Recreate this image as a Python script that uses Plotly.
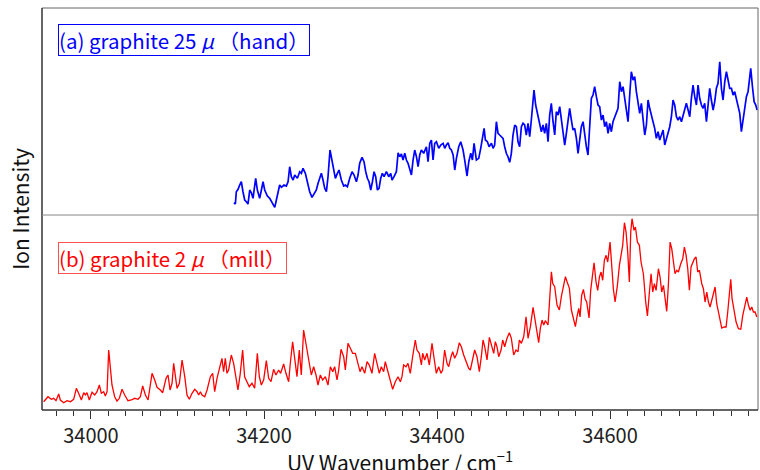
import plotly.graph_objects as go

# ---- (b) graphite 2 micron (mill): red trace ----
red_wn = [
    33945.3, 33950.3, 33954.2, 33956.9, 33959.6, 33962.7, 33964.6, 33968.5, 33972.3, 33976.2,
    33980.0, 33983.1, 33986.6, 33988.9, 33991.6, 33993.5, 33995.4, 33998.1, 34001.2, 34004.3,
    34007.0, 34009.7, 34012.0, 34014.7, 34016.6, 34018.6, 34020.5, 34022.4, 34024.3, 34027.4,
    34030.1, 34032.8, 34035.9, 34039.0, 34042.8, 34046.7, 34050.5, 34054.4, 34057.1, 34059.8,
    34062.9, 34066.0, 34068.7, 34070.6, 34073.7, 34076.4, 34080.2, 34082.9, 34086.8, 34089.1,
    34091.4, 34093.7, 34095.6, 34097.6, 34099.5, 34102.2, 34105.3, 34108.4, 34111.0, 34113.7,
    34116.8, 34119.9, 34122.6, 34124.5, 34126.5, 34128.4, 34131.5, 34134.2, 34138.0, 34140.7,
    34143.0, 34145.7, 34148.4,
    34151.4, 34153.3, 34155.3, 34157.2, 34159.1, 34162.2, 34164.9, 34166.8, 34169.9, 34172.6,
    34175.3, 34177.6, 34180.3, 34183.0, 34186.1, 34189.2, 34192.3, 34194.6, 34196.9, 34199.6,
    34202.7, 34205.4, 34208.1, 34211.1, 34213.8, 34216.9, 34219.2, 34222.7, 34225.4, 34228.5,
    34230.4, 34233.1, 34236.2, 34238.1, 34240.8, 34243.1, 34245.8, 34247.8, 34249.7, 34252.4,
    34254.7, 34257.4, 34260.1, 34262.4, 34265.1, 34267.8, 34270.9, 34274.0, 34276.7, 34279.4,
    34281.7, 34284.4, 34286.3, 34289.0, 34292.1, 34294.0, 34297.1, 34299.8, 34302.5, 34305.6,
    34308.6, 34311.0, 34313.3, 34316.4, 34319.1, 34321.7, 34324.8, 34327.9, 34330.6, 34333.3,
    34335.6, 34338.3, 34340.2, 34342.9, 34346.0, 34348.7, 34351.8, 34354.9, 34357.6,
    34359.5, 34361.4, 34364.1, 34366.4, 34369.1, 34371.8, 34374.9, 34376.8, 34379.5, 34381.9,
    34383.4, 34385.7, 34388.4, 34391.1, 34394.2, 34396.9, 34399.2, 34401.9, 34404.6, 34406.5,
    34408.8, 34411.5, 34413.5, 34416.2, 34418.1, 34420.4, 34423.1, 34425.8, 34428.1, 34430.8,
    34433.5, 34436.6, 34438.5, 34441.2, 34443.5, 34446.2, 34448.9, 34451.2, 34453.2, 34455.1,
    34457.8, 34460.5, 34462.8, 34465.5, 34467.4, 34469.3, 34471.3, 34474.0, 34475.9, 34478.2,
    34480.9, 34483.6, 34485.9, 34488.6, 34491.3, 34493.6, 34495.2, 34497.5, 34500.2, 34502.9,
    34505.2, 34507.9, 34511.0, 34513.7, 34515.6, 34517.5, 34519.4, 34521.4, 34523.3, 34525.2,
    34528.3, 34532.2, 34533.7, 34536.0, 34538.7, 34541.4, 34543.7, 34546.4, 34548.4, 34550.3,
    34553.0, 34555.3, 34558.0, 34559.9, 34561.8, 34563.8,
    34565.3, 34567.2, 34569.2, 34571.1, 34573.0, 34575.7, 34577.6, 34579.9, 34581.5, 34583.8,
    34585.7, 34587.7, 34589.6, 34591.5, 34593.4, 34595.4, 34597.3, 34600.0, 34601.9, 34603.8,
    34605.8, 34608.5, 34610.8, 34612.7, 34614.6, 34616.6, 34618.5, 34620.4, 34622.3, 34623.9,
    34625.4, 34627.7, 34629.3, 34631.6, 34633.9, 34635.8, 34638.5, 34641.2, 34643.2, 34645.5,
    34647.4, 34649.3, 34651.2, 34653.2, 34655.9, 34657.8, 34659.7, 34661.7, 34663.6, 34665.5,
    34667.4, 34669.4, 34671.3, 34673.2, 34675.1, 34677.1, 34679.0, 34681.7, 34684.0, 34685.9,
    34687.9, 34689.8, 34691.7, 34693.6, 34695.6, 34697.5, 34699.4, 34701.3, 34703.3, 34706.0,
    34707.9, 34709.8, 34711.8, 34713.7, 34715.6, 34717.5, 34719.5, 34721.4, 34723.3, 34725.2,
    34727.2, 34729.1, 34731.8, 34734.1, 34736.0, 34738.0, 34739.5, 34741.0, 34743.4, 34745.7,
    34748.4, 34751.1, 34753.4, 34756.1, 34758.0, 34760.0, 34761.9, 34763.8, 34765.7, 34767.6,
    34769.6,
]
red_int = [
    8.3, 13.3, 10.7, 11.7, 9.3, 16, 10, 7.3, 9.3, 8.3,
    10.7, 21.7, 15, 10, 17.3, 15, 17.3, 10, 17.7, 15,
    18.3, 25, 16.7, 18.3, 14, 18.3, 60, 43.3, 25, 13.3,
    9, 11.7, 20.7, 15, 9.3, 10, 11.7, 10.7, 13.3, 24,
    15, 10, 26.7, 36.7, 30, 22.7, 20, 17.3, 31.7, 35,
    20, 26.7, 46.7, 35, 21.7, 26.7, 50, 33.3, 15, 10.7,
    16.7, 20.7, 18.3, 15, 18.3, 15, 13.3, 20, 33.3, 36.7,
    18.3, 31.7, 40,
    51.7, 38.3, 51.7, 36.7, 40, 55, 46.7, 36.7, 20, 36.7,
    60, 33.3, 28.3, 23.3, 26.7, 21.7, 56.7, 33.3, 25, 30,
    49.3, 31.7, 28.3, 40.7, 35, 40, 36.7, 46, 36.7, 28.3,
    46.7, 68.3, 46.7, 33.3, 60, 35, 80, 70, 63.3, 46.7,
    35, 43.3, 35, 25, 35, 30, 33.3, 25, 43.3, 38.3,
    43.3, 30, 40, 60.7, 53.3, 40, 66.7, 61.7, 56.7, 56.7,
    45, 38.3, 43.3, 36.7, 48.3, 45, 36.7, 56.7, 46.7, 36.7,
    43.3, 38.3, 48.3, 40, 28.3, 20.7, 28.3, 33.3, 28.3,
    33.3, 45, 43.3, 46.7, 36.7, 53.3, 70, 60, 56.7, 45,
    56.7, 50, 56.7, 45, 66.7, 50, 36.7, 43.3, 36.7, 40,
    60, 46.7, 43.3, 53.3, 58.3, 51.7, 56.7, 67.3, 63.3, 55,
    48.3, 41.7, 40, 50, 60, 53.3, 38.3, 53.3, 70, 63.3,
    50, 72.7, 65, 56.7, 68.3, 63.3, 53.3, 60, 70, 63.3,
    71.7, 77.3, 71.7, 55, 60, 58.3, 70, 66.7, 73.3, 93.3,
    71.7, 83.3, 102.7, 88.3, 78.3, 67.3, 81.7, 90, 85, 89.3,
    85, 138.3, 126.7, 123.3, 105, 100, 113.3, 126.7, 133.3, 128.3,
    121.7, 100, 91.7, 83.3, 93.3, 101.7,
    93, 114.7, 120.7, 111.3, 108, 92, 119.7, 134.7, 147.3, 128,
    119.7, 133, 138, 129.7, 149.7, 154.7, 148, 168, 139.7, 121.3,
    108, 124.7, 144.7, 155.3, 164.7, 187.3, 178, 158, 128, 178,
    191.3, 179.7, 183, 168, 164.7, 148, 136.3, 108, 94, 118,
    136.3, 118, 126.3, 119.7, 141.3, 133, 118, 124.7, 111.3, 98.7,
    124.7, 168, 161.3, 148, 136.3, 139.7, 138, 146.3, 151.3, 163,
    154.7, 141.3, 119.7, 143, 148, 151.3, 153, 138, 139.7, 126.3,
    121.3, 108, 118, 108, 103, 109.7, 114.7, 123, 106.3, 98,
    91.3, 82, 83, 83, 98, 114.7, 130.7, 111.3, 99.7, 88,
    81.3, 80.7, 94.7, 108, 113, 104.7, 99.7, 103, 98, 98,
    93,
]

# ---- (a) graphite 25 micron (hand): blue trace ----
blue_wn = [
    34165.3, 34166.9, 34168.0, 34170.0, 34171.9, 34173.8, 34175.7, 34177.7, 34179.6, 34181.5,
    34183.5, 34185.4, 34187.3, 34190.4, 34192.3, 34195.0, 34197.0, 34198.9, 34200.8, 34203.9,
    34206.6, 34209.3, 34212.4, 34214.3, 34216.2, 34218.1, 34220.1, 34223.1, 34225.8, 34227.8,
    34229.7, 34231.6, 34233.6, 34235.5, 34238.6, 34241.3, 34243.2, 34245.1, 34247.8, 34250.1,
    34252.8, 34255.5, 34257.8, 34260.5, 34262.5, 34264.4, 34266.3, 34268.2, 34270.2, 34272.1,
    34274.0, 34276.3, 34278.6, 34281.0, 34282.5, 34284.8, 34286.7, 34289.4, 34292.1, 34294.1,
    34296.4, 34299.1, 34301.8, 34304.1, 34306.8, 34308.7, 34310.6, 34313.3, 34315.6, 34317.6,
    34319.5, 34321.4, 34323.4, 34325.3, 34327.2, 34329.1, 34331.1, 34333.0, 34334.9, 34336.8,
    34338.8, 34341.5, 34344.2, 34346.5, 34348.0, 34350.3, 34353.0, 34355.0, 34356.9, 34358.8,
    34360.7, 34362.7, 34364.6, 34366.5, 34368.4, 34370.4, 34372.3, 34374.2, 34376.2, 34378.1,
    34380.0, 34381.9, 34384.6, 34387.7, 34389.6, 34391.6, 34393.5, 34395.4, 34397.3, 34399.3,
    34402.0, 34404.3, 34407.0, 34408.9, 34410.8, 34412.8, 34414.7, 34416.6, 34418.6, 34420.5,
    34422.4, 34425.1, 34427.4, 34430.1, 34432.0, 34434.7, 34436.7, 34439.0, 34440.9, 34442.8,
    34445.5, 34448.2, 34450.5, 34452.1, 34454.4, 34455.9, 34458.2, 34460.2, 34462.9, 34464.8,
    34466.6, 34468.6, 34470.5, 34472.4, 34474.3, 34476.3, 34478.2, 34480.1, 34482.0, 34484.0,
    34485.9, 34487.8, 34489.8, 34491.7, 34493.6, 34495.5, 34497.5, 34499.4, 34501.3, 34503.2,
    34505.2, 34507.1, 34509.0, 34511.0, 34512.1, 34514.0, 34516.0, 34518.7, 34520.6, 34522.5,
    34524.4, 34526.4, 34528.3, 34530.2, 34532.1, 34534.1, 34536.0, 34537.9, 34539.9, 34541.8,
    34543.7, 34545.6, 34547.6, 34549.5, 34551.4, 34553.3, 34555.3, 34557.2, 34559.1, 34561.1,
    34563.0, 34564.9, 34566.8, 34568.8, 34570.7, 34572.6, 34574.5, 34576.5, 34578.4, 34580.3,
    34582.2, 34584.2, 34586.1, 34588.0, 34590.0, 34591.9, 34593.8, 34595.7, 34597.7, 34599.6,
    34601.5, 34603.4, 34605.4, 34607.3, 34609.2, 34611.2, 34613.1, 34615.0, 34616.9, 34618.9,
    34620.8, 34622.7, 34624.6, 34626.6, 34628.5, 34630.4, 34632.3, 34634.3, 34636.2, 34638.1,
    34640.1, 34642.0, 34643.9, 34645.8, 34647.8, 34649.7, 34651.6, 34653.5, 34655.5, 34657.4,
    34659.3, 34661.3, 34663.2, 34665.1, 34667.0, 34669.0, 34670.9, 34672.8, 34674.7, 34676.7,
    34678.6, 34680.5, 34682.5, 34684.4, 34686.3, 34688.2, 34690.2, 34692.1, 34694.0, 34695.9,
    34697.9, 34699.8, 34701.7, 34703.6, 34705.6, 34707.5, 34709.4, 34711.4, 34713.3, 34715.2,
    34717.1, 34719.1, 34721.0, 34722.9, 34724.8, 34726.8, 34728.7, 34730.6, 34732.6, 34734.5,
    34736.4, 34738.3, 34740.3, 34742.2, 34744.1, 34746.0, 34748.0, 34749.9, 34751.8, 34753.7,
    34755.7, 34757.6, 34759.5, 34761.5, 34762.6, 34764.6, 34766.5, 34768.4, 34770.0,
]
blue_int = [
    12.3, 11, 23.3, 25.7, 30, 33.3, 23.3, 15, 13.3, 11,
    25, 22.3, 16.7, 36.7, 25, 16.7, 25, 33.3, 25, 19,
    16.7, 11.7, 7.7, 15, 23.3, 30, 27.7, 30, 29, 33.3,
    48.3, 38.3, 35, 40, 36.7, 43.3, 41.7, 46.7, 41.7, 31.7,
    23.3, 17.7, 21.7, 25, 31.7, 36.7, 41.7, 35, 26.7, 23.3,
    38.3, 65, 53.3, 43.3, 36.7, 41.7, 45, 35, 29, 30,
    28.3, 36.7, 43.3, 40, 33.3, 40, 51.7, 57.7, 53.3, 43.3,
    36.7, 33.3, 25, 33.3, 43.3, 38.3, 25, 26.7, 36.7, 41.7,
    38.3, 43.3, 38.3, 41.7, 35, 38.3, 43.3, 62.3, 58.3, 61,
    55, 61.7, 55, 51.7, 46.7, 40, 55, 65, 58.3, 48.3,
    60, 65, 61.7, 68.3, 53.3, 71.7, 75, 55, 71.7, 73.3,
    66.7, 70, 71.7, 66.7, 70, 72.3, 66.7, 65, 60, 45,
    56.7, 68.3, 73.3, 65, 55, 39, 53.3, 61.7, 55, 71.7,
    55, 56.7, 66.7, 75, 86.7, 75, 73.3, 68.3, 71.7, 66.7,
    70, 93.3, 81.7, 80, 78.3, 76.7, 68.3, 61.7, 58.3, 52.7,
    61.7, 80, 90, 88.3, 73.3, 68.3, 88.3, 91.7, 90, 80,
    91.7, 78.3, 95, 115, 125, 110, 101.7, 93.3, 83.3, 90,
    81.7, 91.7, 73.3, 100, 111.7, 93.3, 80, 103.3, 100, 108.3,
    96.7, 80, 70, 81.7, 95, 106.7, 95, 85, 86.7, 76.7,
    61.7, 76.7, 88.3, 93.3, 80, 68.3, 60, 93.3, 116.7, 120,
    128.3, 118.3, 110, 108.3, 95, 100, 88.3, 93.3, 81.7, 91.7,
    83.3, 93.3, 98.3, 103.3, 106.7, 133.3, 123.3, 128.3, 115, 106.7,
    93.3, 120, 143.3, 135, 138.3, 123.3, 110, 101.7, 111.7, 96.7,
    80, 90, 115, 106.7, 100, 93.3, 86.7, 76.7, 83.3, 75,
    80, 85, 70, 76.7, 83.3, 88.3, 98.3, 115, 110, 98.3,
    95, 98.3, 93.3, 100, 106.7, 111.7, 105, 98.3, 116.7, 130,
    118.3, 110, 130, 116.7, 110, 106.7, 111.7, 93.3, 110, 126.7,
    115, 105, 113.3, 126.7, 131.7, 153.3, 126.7, 115, 133.3, 143.3,
    135, 126.7, 126.7, 120, 123.3, 116.7, 110, 101.7, 83.3, 95,
    106.7, 118.3, 123.3, 136.7, 146.7, 128.3, 113.3, 110, 105,
]

x_range = [33943.4, 34771.0]
major_ticks = [34000, 34200, 34400, 34600]
label_a = "(a) graphite 25 <i>\u03bc</i> \uff08hand\uff09"
label_b = "(b) graphite 2 <i>\u03bc</i> \uff08mill\uff09"

FONT = "Noto Sans CJK JP, Noto Sans, DejaVu Sans, sans-serif"
SPLIT = 0.485

fig = go.Figure()
fig.add_trace(go.Scatter(x=red_wn, y=red_int, mode="lines", xaxis="x", yaxis="y",
                         line=dict(color="#ff0000", width=1.3), showlegend=False))
fig.add_trace(go.Scatter(x=blue_wn, y=blue_int, mode="lines", xaxis="x", yaxis="y2",
                         line=dict(color="#0000ff", width=1.7), showlegend=False))

fig.update_layout(
    width=760, height=470, autosize=False,
    margin=dict(l=42, r=2, t=8, b=60),
    paper_bgcolor="white", plot_bgcolor="white",
    font=dict(family=FONT, color="#222"),
    xaxis=dict(range=x_range, tickmode="array", tickvals=major_ticks,
               ticktext=[str(v) for v in major_ticks],
               ticks="outside", ticklen=8, tickwidth=1, tickcolor="#333",
               minor=dict(ticks="outside", ticklen=5, tickwidth=1, tickcolor="#333",
                          tick0=34000, dtick=20, showgrid=False),
               showgrid=False, zeroline=False, showline=False,
               tickfont=dict(size=20, family=FONT, color="#222"), anchor="y"),
    yaxis=dict(domain=[0, SPLIT], range=[0, 195], showticklabels=False, ticks="",
               showgrid=False, zeroline=False, showline=False, anchor="x"),
    yaxis2=dict(domain=[SPLIT, 1], range=[0, 207], showticklabels=False, ticks="",
                showgrid=False, zeroline=False, showline=False, anchor="x"),
    shapes=[
        dict(type="line", xref="paper", yref="paper", x0=0, x1=1, y0=1, y1=1,
             line=dict(color="#666", width=1)),
        dict(type="line", xref="paper", yref="paper", x0=1, x1=1, y0=0, y1=1,
             line=dict(color="#666", width=1)),
        dict(type="line", xref="paper", yref="paper", x0=0, x1=0, y0=0, y1=1,
             line=dict(color="#333", width=1.5)),
        dict(type="line", xref="paper", yref="paper", x0=0, x1=1, y0=0, y1=0,
             line=dict(color="#333", width=1.5)),
        dict(type="line", xref="paper", yref="paper", x0=0, x1=1, y0=SPLIT, y1=SPLIT,
             line=dict(color="#888", width=1)),
    ],
    annotations=[
        dict(text=label_a, xref="paper", yref="paper", x=0.022, y=0.960,
             xanchor="left", yanchor="top", showarrow=False,
             font=dict(size=20.5, color="#0000ff", family=FONT),
             bordercolor="#0000ff", borderwidth=1, borderpad=0, bgcolor="white"),
        dict(text=label_b, xref="paper", yref="paper", x=0.022, y=0.418,
             xanchor="left", yanchor="top", showarrow=False,
             font=dict(size=20.5, color="#ff0000", family=FONT),
             bordercolor="#ff5050", borderwidth=1, borderpad=0, bgcolor="white"),
        dict(text="Ion Intensity", xref="paper", yref="paper", x=-0.031, y=0.5,
             xanchor="center", yanchor="middle", textangle=-90, showarrow=False,
             font=dict(size=21, family=FONT, color="#111")),
        dict(text="UV Wavenumber / cm<sup>\u22121</sup>", xref="paper", yref="paper",
             x=0.5, y=-0.083, xanchor="center", yanchor="top", showarrow=False,
             font=dict(size=21, family=FONT, color="#111")),
    ],
)

fig.write_html("out.html", config={"responsive": False, "displayModeBar": False},
               post_script="document.body.style.margin='0px';document.body.style.overflow='hidden';")
